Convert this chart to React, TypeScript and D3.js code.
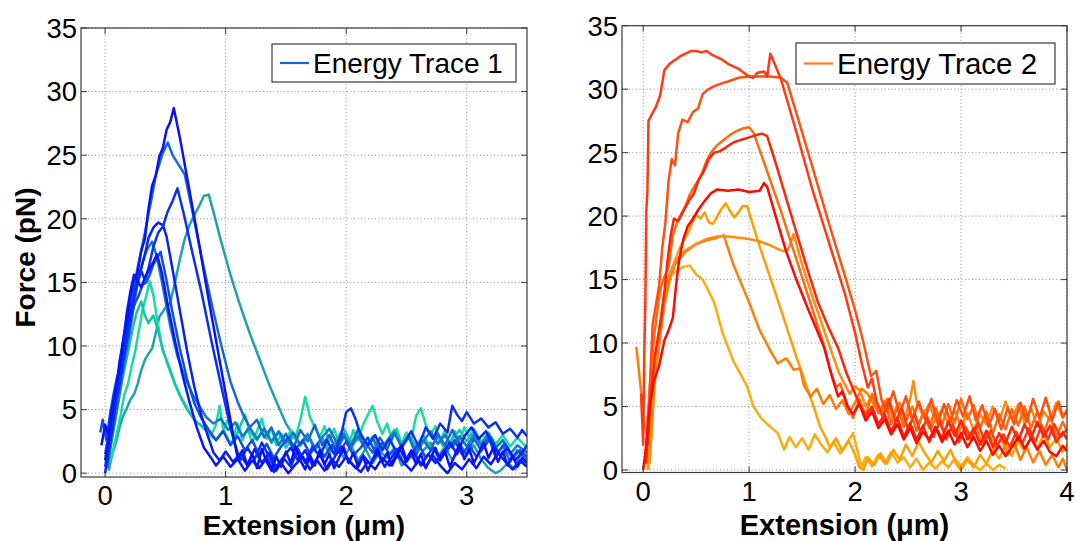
import * as React from 'react';
import * as d3 from 'd3';

type Pt = [number, number];

// ---- axis ticks ----
const yTicks = [0, 5, 10, 15, 20, 25, 30, 35];
const xTicksLeft = [0, 1, 2, 3];
const xTicksRight = [0, 1, 2, 3, 4];

// ---- Energy Trace 1 (left panel), [extension um, force pN] ----
const t1a: Pt[] = [[-0.03,2.2],[0.0,3.8],[0.03,3.0],[0.06,5.2],[0.09,6.8],[0.12,8.2],[0.15,10.5],[0.18,11.8],[0.21,13.9],[0.24,15.2],[0.27,15.8],[0.3,17.5],[0.33,18.4],[0.36,20.8],[0.39,22.6],[0.42,23.4],[0.45,24.9],[0.48,25.6],[0.51,27.0],[0.54,27.6],[0.57,28.7],[0.62,26.4],[0.7,22.2],[0.78,18.0],[0.86,13.6],[0.94,9.4],[1.02,5.2],[1.07,2.6],[1.1,1.2],[1.14,1.8],[1.18,0.6],[1.22,1.5],[1.26,0.4],[1.3,1.9],[1.34,0.9],[1.38,0.2],[1.42,1.3],[1.46,0.5],[1.5,1.7],[1.54,0.8],[1.58,2.1],[1.62,1.0],[1.66,0.3],[1.7,1.4],[1.74,0.6],[1.78,1.8],[1.82,0.7],[1.86,1.5],[1.9,0.4],[1.94,1.2],[1.98,2.0],[2.02,0.8],[2.06,1.6],[2.1,0.5],[2.14,1.3],[2.18,0.2],[2.22,1.1],[2.26,1.9],[2.3,0.9],[2.34,1.6],[2.38,0.6],[2.42,1.4],[2.46,2.2],[2.5,1.0],[2.54,1.8],[2.58,0.7],[2.62,1.5],[2.66,0.4],[2.7,1.2],[2.74,2.0],[2.78,1.0],[2.82,1.7],[2.86,0.5],[2.9,1.4],[2.94,2.3],[2.98,1.1],[3.02,1.9],[3.06,0.8],[3.1,1.6],[3.14,2.4],[3.18,1.2],[3.22,2.0],[3.26,0.9],[3.3,1.7],[3.34,0.6],[3.38,1.4],[3.42,0.5],[3.46,1.2],[3.5,0.8]];
const t1b: Pt[] = [[0.0,1.5],[0.03,3.2],[0.06,4.5],[0.09,6.3],[0.12,7.8],[0.15,9.6],[0.18,10.8],[0.21,12.9],[0.24,14.6],[0.27,16.2],[0.3,17.5],[0.33,18.9],[0.36,20.4],[0.39,21.8],[0.42,23.4],[0.45,24.3],[0.48,25.2],[0.52,26.0],[0.56,25.0],[0.6,24.4],[0.66,23.5],[0.72,20.8],[0.8,17.0],[0.88,13.5],[0.96,10.2],[1.04,7.2],[1.1,5.6],[1.15,4.5],[1.2,3.6],[1.26,4.2],[1.32,2.8],[1.38,3.6],[1.44,2.2],[1.5,3.1],[1.56,1.9],[1.62,3.4],[1.68,2.5],[1.74,3.8],[1.8,2.2],[1.86,3.0],[1.92,1.7],[1.98,2.9],[2.04,2.1],[2.1,3.5],[2.16,2.4],[2.22,1.6],[2.28,2.8],[2.34,1.9],[2.4,3.2],[2.46,2.0],[2.52,2.9],[2.58,1.4],[2.64,2.6],[2.7,1.8],[2.76,3.1],[2.82,2.2],[2.88,3.4],[2.94,2.3],[3.0,1.5],[3.06,2.7],[3.12,1.8],[3.18,2.9],[3.24,1.2],[3.3,2.2],[3.36,0.9],[3.42,1.8],[3.5,1.0]];
const t1c: Pt[] = [[0.0,0.5],[0.03,2.0],[0.06,3.8],[0.09,5.5],[0.12,7.0],[0.15,8.8],[0.18,10.5],[0.21,11.9],[0.24,13.8],[0.27,15.0],[0.3,15.9],[0.33,15.2],[0.36,16.1],[0.4,17.8],[0.44,18.9],[0.48,19.4],[0.52,20.6],[0.56,21.4],[0.6,22.4],[0.65,20.5],[0.72,17.5],[0.8,14.2],[0.88,10.5],[0.96,7.0],[1.03,4.0],[1.08,2.2],[1.12,1.0],[1.18,2.0],[1.24,1.1],[1.3,2.4],[1.36,1.3],[1.42,0.2],[1.48,1.2],[1.54,0.5],[1.6,1.9],[1.66,0.8],[1.72,2.1],[1.78,1.3],[1.84,2.6],[1.9,1.5],[1.96,3.1],[2.0,4.8],[2.04,5.1],[2.08,4.2],[2.12,3.0],[2.18,2.2],[2.24,3.0],[2.3,1.8],[2.36,2.7],[2.42,1.6],[2.48,2.4],[2.54,3.3],[2.6,2.1],[2.66,3.6],[2.72,2.7],[2.78,3.9],[2.84,3.2],[2.88,5.3],[2.92,4.6],[2.96,4.1],[3.0,4.8],[3.06,3.9],[3.12,4.3],[3.18,3.6],[3.24,4.0],[3.3,3.1],[3.36,3.5],[3.42,2.8],[3.46,3.4],[3.5,2.9]];
const t1d: Pt[] = [[0.03,0.2],[0.06,1.5],[0.09,2.4],[0.12,3.6],[0.15,4.5],[0.18,5.1],[0.21,5.8],[0.24,6.2],[0.27,7.0],[0.3,8.1],[0.33,8.9],[0.36,9.4],[0.39,9.8],[0.42,11.0],[0.45,12.3],[0.5,13.0],[0.54,13.4],[0.58,15.0],[0.62,16.8],[0.66,18.4],[0.7,19.5],[0.74,20.3],[0.78,21.0],[0.82,21.8],[0.86,21.9],[0.9,20.5],[0.96,18.3],[1.04,15.6],[1.12,13.2],[1.2,11.0],[1.28,9.0],[1.36,7.0],[1.44,5.2],[1.5,3.9],[1.56,3.0],[1.62,2.2],[1.68,3.1],[1.74,1.8],[1.8,2.7],[1.86,1.5],[1.92,2.4],[1.98,1.2],[2.04,2.2],[2.1,1.0],[2.16,1.9],[2.22,0.8],[2.28,1.7],[2.34,1.2],[2.4,2.0],[2.46,0.6],[2.52,1.5],[2.58,0.9],[2.64,1.8],[2.7,2.4],[2.76,1.3],[2.82,2.1],[2.88,1.0],[2.94,1.9],[3.0,1.4],[3.06,2.2],[3.12,1.1],[3.18,0.4],[3.24,0.0],[3.28,0.2],[3.34,0.8],[3.4,0.3],[3.46,1.1],[3.5,0.6]];
const t1e: Pt[] = [[0.0,0.0],[0.03,1.8],[0.06,3.5],[0.09,5.8],[0.12,7.2],[0.15,9.0],[0.18,10.6],[0.21,12.4],[0.24,13.9],[0.27,15.3],[0.3,16.1],[0.33,17.2],[0.36,18.5],[0.4,19.3],[0.44,19.7],[0.48,19.5],[0.51,18.6],[0.56,16.0],[0.62,12.8],[0.68,9.6],[0.74,6.8],[0.8,4.5],[0.85,3.0],[0.9,1.6],[0.95,1.0],[1.0,1.7],[1.06,0.9],[1.12,1.5],[1.18,0.6],[1.24,1.9],[1.3,0.8],[1.36,1.6],[1.42,0.5],[1.48,1.3],[1.54,2.0],[1.6,1.0],[1.66,1.8],[1.72,0.6],[1.78,1.5],[1.84,0.3],[1.9,1.2],[1.96,2.1],[2.02,1.0],[2.08,0.4],[2.14,1.4],[2.2,0.7],[2.26,1.6],[2.32,0.5],[2.38,1.3],[2.44,2.0],[2.5,0.9],[2.56,1.7],[2.62,0.6],[2.68,1.5],[2.74,0.8],[2.8,1.6],[2.86,2.4],[2.92,1.5],[2.98,2.9],[3.04,3.6],[3.1,2.7],[3.16,3.3],[3.22,2.1],[3.28,1.4],[3.34,2.0],[3.4,1.0],[3.46,1.6],[3.5,2.2]];
const t1f: Pt[] = [[-0.04,3.2],[-0.02,4.2],[0.01,2.6],[0.04,4.6],[0.07,6.2],[0.1,7.6],[0.13,8.4],[0.16,10.2],[0.19,11.5],[0.22,12.6],[0.25,13.4],[0.28,14.0],[0.31,14.8],[0.34,15.0],[0.37,15.6],[0.4,16.4],[0.43,16.9],[0.46,17.4],[0.5,15.6],[0.56,12.6],[0.62,9.8],[0.68,7.4],[0.74,5.5],[0.8,4.3],[0.86,3.4],[0.92,2.6],[0.98,3.3],[1.04,2.2],[1.1,2.9],[1.16,1.8],[1.22,2.6],[1.28,1.4],[1.34,2.3],[1.4,1.2],[1.46,2.1],[1.52,2.8],[1.58,1.9],[1.64,2.6],[1.7,1.5],[1.76,2.3],[1.82,1.3],[1.88,2.2],[1.94,1.6],[2.0,2.5],[2.06,1.4],[2.12,2.0],[2.18,2.8],[2.24,1.7],[2.3,2.4],[2.36,1.5],[2.42,1.9],[2.48,0.7],[2.54,1.5],[2.6,2.3],[2.66,1.2],[2.72,2.0],[2.78,1.1],[2.84,1.8],[2.9,2.6],[2.96,1.5],[3.02,2.2],[3.08,1.3],[3.14,2.0],[3.2,2.8],[3.26,1.7],[3.32,2.3],[3.38,1.2],[3.44,1.8],[3.5,1.3]];
const t1g: Pt[] = [[0.02,0.4],[0.05,2.3],[0.08,4.0],[0.11,5.6],[0.14,7.5],[0.17,9.3],[0.2,10.8],[0.23,12.6],[0.26,14.4],[0.29,15.8],[0.32,16.9],[0.35,17.6],[0.39,18.2],[0.43,17.0],[0.48,14.6],[0.54,11.6],[0.6,9.2],[0.66,7.6],[0.72,6.3],[0.78,5.3],[0.84,4.4],[0.9,3.9],[0.96,4.3],[1.02,3.4],[1.08,4.0],[1.14,2.9],[1.2,3.6],[1.26,2.7],[1.32,3.5],[1.38,2.5],[1.44,3.3],[1.5,2.4],[1.56,3.2],[1.62,2.2],[1.68,3.0],[1.74,2.0],[1.8,2.8],[1.86,3.5],[1.92,2.4],[1.98,3.1],[2.04,2.0],[2.1,2.9],[2.16,1.9],[2.22,2.7],[2.28,1.6],[2.34,2.5],[2.4,3.2],[2.46,2.1],[2.52,2.8],[2.58,1.7],[2.64,2.5],[2.7,3.3],[2.76,2.3],[2.82,3.0],[2.88,2.0],[2.94,2.9],[3.0,2.1],[3.06,3.0],[3.12,2.2],[3.18,3.1],[3.24,2.0],[3.3,2.6],[3.36,1.5],[3.42,2.2],[3.5,1.6]];
const t1h: Pt[] = [[0.0,1.0],[0.03,2.8],[0.06,4.9],[0.09,6.5],[0.12,8.8],[0.15,10.4],[0.18,12.6],[0.21,14.3],[0.24,15.6],[0.27,15.1],[0.3,14.6],[0.33,15.4],[0.36,15.9],[0.4,16.6],[0.43,17.2],[0.47,15.8],[0.52,13.2],[0.58,10.4],[0.64,7.8],[0.7,5.6],[0.76,3.6],[0.82,2.0],[0.88,1.2],[0.92,0.6],[0.98,1.3],[1.04,0.5],[1.1,1.1],[1.16,0.2],[1.22,1.0],[1.28,0.4],[1.34,1.2],[1.4,0.1],[1.46,0.8],[1.52,0.0],[1.58,0.7],[1.64,1.3],[1.7,0.3],[1.76,1.0],[1.82,0.2],[1.88,1.1],[1.94,0.5],[2.0,1.3],[2.06,0.6],[2.12,0.1],[2.18,0.9],[2.24,0.3],[2.3,1.2],[2.36,0.6],[2.42,1.5],[2.48,0.8],[2.54,0.2],[2.6,1.0],[2.66,0.5],[2.72,1.4],[2.78,0.6],[2.84,0.0],[2.9,0.8],[2.96,0.3],[3.02,1.1],[3.08,0.4],[3.14,1.3],[3.2,0.7],[3.26,1.6],[3.32,0.9],[3.38,0.3],[3.44,1.0],[3.5,0.5]];
const t1i: Pt[] = [[0.04,0.8],[0.07,2.0],[0.1,3.3],[0.13,4.6],[0.16,6.2],[0.19,7.0],[0.22,8.4],[0.25,9.6],[0.28,11.2],[0.31,12.8],[0.34,13.9],[0.37,15.1],[0.4,14.0],[0.43,12.2],[0.47,10.0],[0.52,8.5],[0.58,7.0],[0.64,5.8],[0.7,4.8],[0.76,4.0],[0.82,3.6],[0.88,3.0],[0.92,3.8],[0.95,5.3],[0.98,3.4],[1.02,4.2],[1.06,2.8],[1.1,3.9],[1.14,2.6],[1.18,3.5],[1.22,2.4],[1.26,3.3],[1.3,4.3],[1.34,2.7],[1.38,3.5],[1.42,2.2],[1.46,3.1],[1.5,2.5],[1.54,3.4],[1.58,2.8],[1.62,4.2],[1.66,6.0],[1.7,4.4],[1.74,3.6],[1.78,2.8],[1.82,3.7],[1.86,2.5],[1.9,3.5],[1.94,2.3],[1.98,3.1],[2.02,2.2],[2.06,3.4],[2.1,2.6],[2.14,3.8],[2.18,4.6],[2.22,5.3],[2.26,4.0],[2.3,3.1],[2.34,3.9],[2.38,2.6],[2.42,3.5],[2.46,2.3],[2.5,3.2],[2.54,2.6],[2.58,4.5],[2.62,5.1],[2.66,3.8],[2.7,3.0],[2.74,3.7],[2.78,2.5],[2.82,3.4],[2.86,2.2],[2.9,3.3],[2.94,2.5],[2.98,3.6],[3.02,2.8],[3.06,3.5],[3.12,2.4],[3.18,3.2],[3.24,2.3],[3.3,3.0],[3.36,2.1],[3.42,2.8],[3.5,2.0]];
const t1j: Pt[] = [[0.02,0.5],[0.05,2.5],[0.08,4.0],[0.11,5.7],[0.14,7.2],[0.17,8.6],[0.2,10.0],[0.23,11.4],[0.26,12.6],[0.3,13.5],[0.33,12.4],[0.36,11.8],[0.4,12.4],[0.44,11.2],[0.48,9.6],[0.53,8.4],[0.58,7.0],[0.63,5.9],[0.68,5.0],[0.74,4.2],[0.8,3.7],[0.86,3.1],[0.92,2.6],[0.98,3.4],[1.04,2.3],[1.1,3.2],[1.16,4.6],[1.2,3.3],[1.26,2.6],[1.32,3.5],[1.38,2.4],[1.44,3.2],[1.5,2.0],[1.56,2.9],[1.62,2.3],[1.68,3.1],[1.74,2.0],[1.8,2.8],[1.86,1.8],[1.92,2.7],[1.98,3.5],[2.04,2.4],[2.1,3.2],[2.16,2.1],[2.22,2.9],[2.28,1.8],[2.34,2.6],[2.4,3.4],[2.46,2.2],[2.52,3.0],[2.58,2.1],[2.64,3.0],[2.7,2.0],[2.76,2.8],[2.82,1.9],[2.88,2.7],[2.94,3.4],[3.0,2.5],[3.06,3.3],[3.12,2.3],[3.18,3.0],[3.24,2.0],[3.3,2.6],[3.36,1.6],[3.42,1.0],[3.46,1.6],[3.5,1.2]];

const leftTraces = [t1d, t1i, t1j, t1b, t1g, t1f, t1e, t1c, t1a, t1h];
const leftColors = ['#1fa0b6', '#18dca0', '#14c4aa', '#1868d4', '#1478cc', '#0c50e2', '#0622f4', '#0a30f0', '#0a10f8', '#0416fa'];

// ---- Energy Trace 2 (right panel) ----
const t2a: Pt[] = [[-0.02,6.0],[0.0,2.0],[0.01,9.0],[0.02,13.0],[0.03,20.5],[0.04,22.0],[0.05,27.5],[0.08,28.0],[0.12,28.6],[0.16,29.5],[0.2,31.5],[0.25,32.0],[0.3,32.3],[0.35,32.6],[0.4,32.8],[0.45,33.0],[0.5,33.0],[0.55,32.9],[0.6,33.0],[0.65,32.7],[0.7,32.5],[0.75,32.3],[0.8,32.0],[0.85,31.8],[0.9,31.6],[0.95,31.3],[1.0,31.0],[1.04,30.9],[1.08,31.3],[1.14,31.4],[1.17,31.0],[1.2,32.8],[1.25,31.8],[1.3,30.8],[1.45,26.5],[1.6,22.0],[1.75,18.0],[1.9,14.0],[2.0,10.8],[2.06,8.5],[2.12,6.5],[2.16,7.2],[2.2,5.5],[2.26,4.2],[2.32,5.6],[2.38,3.8],[2.44,4.9],[2.5,3.2],[2.56,4.4],[2.62,2.9],[2.68,4.1],[2.74,2.6],[2.8,3.8],[2.86,2.4],[2.92,3.6],[2.98,2.2],[3.04,3.4],[3.1,2.5],[3.16,3.7],[3.22,2.3],[3.28,3.1],[3.34,1.9],[3.4,2.8],[3.46,1.8],[3.52,3.0],[3.58,2.1],[3.64,3.3],[3.7,2.2],[3.76,3.5],[3.82,2.4],[3.88,3.6],[3.94,2.6],[4.0,3.2]];
const t2b: Pt[] = [[0.03,0.5],[0.05,4.0],[0.07,8.0],[0.09,11.5],[0.12,13.0],[0.15,14.5],[0.18,17.5],[0.21,19.5],[0.24,22.8],[0.27,24.5],[0.3,24.0],[0.33,26.5],[0.37,27.6],[0.42,27.4],[0.47,28.2],[0.52,28.5],[0.56,29.6],[0.6,29.9],[0.66,30.2],[0.72,30.4],[0.8,30.6],[0.9,30.9],[1.0,31.0],[1.1,31.0],[1.2,31.0],[1.3,30.9],[1.36,30.5],[1.45,28.0],[1.6,23.8],[1.75,19.5],[1.9,15.4],[2.0,12.6],[2.08,10.0],[2.15,7.4],[2.2,7.8],[2.25,5.5],[2.3,4.6],[2.36,6.2],[2.42,4.4],[2.48,5.8],[2.54,3.9],[2.6,5.4],[2.66,4.0],[2.72,5.6],[2.78,3.6],[2.84,5.2],[2.9,3.8],[2.96,5.5],[3.02,4.2],[3.08,5.8],[3.14,3.9],[3.2,5.1],[3.26,3.4],[3.32,4.8],[3.38,3.2],[3.44,4.9],[3.5,3.6],[3.56,5.3],[3.62,3.8],[3.68,5.6],[3.74,4.1],[3.8,5.7],[3.86,3.9],[3.92,5.4],[3.96,4.2],[4.0,4.6]];
const t2c: Pt[] = [[0.02,1.0],[0.05,5.0],[0.08,8.5],[0.11,11.0],[0.14,13.0],[0.17,14.5],[0.2,15.2],[0.24,16.0],[0.28,18.5],[0.32,19.5],[0.36,20.2],[0.4,20.8],[0.44,21.7],[0.48,22.3],[0.52,22.8],[0.56,23.5],[0.6,24.4],[0.64,25.0],[0.7,25.6],[0.76,26.0],[0.82,26.4],[0.88,26.7],[0.94,26.9],[1.0,27.0],[1.04,26.6],[1.1,25.2],[1.2,22.8],[1.3,20.4],[1.4,17.8],[1.5,15.2],[1.6,12.6],[1.7,10.0],[1.76,8.0],[1.82,6.5],[1.86,6.8],[1.92,5.2],[1.98,4.1],[2.04,5.6],[2.1,4.3],[2.16,6.0],[2.22,4.5],[2.28,5.4],[2.34,3.6],[2.4,5.0],[2.46,3.4],[2.52,4.7],[2.58,3.1],[2.64,4.5],[2.7,3.3],[2.76,4.9],[2.82,3.5],[2.88,5.2],[2.94,3.7],[3.0,5.6],[3.06,4.0],[3.12,5.1],[3.18,3.3],[3.24,4.6],[3.3,2.9],[3.36,4.4],[3.42,3.2],[3.48,4.8],[3.54,3.5],[3.6,5.0],[3.66,3.3],[3.72,4.6],[3.78,2.9],[3.84,4.3],[3.9,2.6],[3.96,3.8],[4.0,3.0]];
const t2d: Pt[] = [[0.02,0.5],[0.05,3.0],[0.08,6.5],[0.11,9.0],[0.14,10.5],[0.17,12.0],[0.2,14.0],[0.23,16.5],[0.26,18.5],[0.29,19.8],[0.33,19.6],[0.38,20.4],[0.43,21.2],[0.48,21.8],[0.52,22.8],[0.57,23.5],[0.62,24.5],[0.67,25.0],[0.72,25.1],[0.78,25.4],[0.85,25.8],[0.92,26.0],[1.0,26.2],[1.07,26.4],[1.12,26.5],[1.17,26.3],[1.25,24.2],[1.35,21.4],[1.45,18.6],[1.55,15.8],[1.65,13.2],[1.75,11.2],[1.84,9.6],[1.92,7.6],[2.0,6.0],[2.05,5.0],[2.1,4.2],[2.16,5.0],[2.22,3.6],[2.28,4.4],[2.34,3.0],[2.4,4.1],[2.46,2.6],[2.52,3.7],[2.58,2.4],[2.64,3.5],[2.7,2.2],[2.76,3.4],[2.82,2.5],[2.88,3.8],[2.94,2.7],[3.0,3.9],[3.06,2.4],[3.12,3.3],[3.18,2.0],[3.24,3.1],[3.3,1.8],[3.36,2.9],[3.42,2.1],[3.48,3.4],[3.54,2.3],[3.6,3.6],[3.66,2.5],[3.72,3.8],[3.78,2.6],[3.84,3.5],[3.9,2.2],[3.96,3.0],[4.0,2.4]];
const t2e: Pt[] = [[0.0,0.0],[0.03,2.0],[0.06,5.0],[0.1,7.0],[0.15,8.2],[0.2,10.2],[0.24,11.0],[0.28,12.0],[0.31,14.5],[0.34,16.6],[0.38,18.2],[0.42,19.2],[0.47,19.8],[0.52,20.5],[0.58,21.2],[0.64,21.8],[0.7,22.1],[0.8,22.0],[0.9,22.1],[1.0,21.9],[1.1,22.0],[1.14,22.6],[1.17,22.3],[1.25,20.0],[1.35,17.2],[1.45,14.9],[1.55,12.8],[1.63,11.2],[1.71,9.6],[1.78,7.4],[1.84,5.8],[1.88,6.2],[1.93,5.0],[1.98,4.4],[2.04,5.2],[2.1,3.9],[2.16,4.6],[2.22,3.3],[2.28,4.0],[2.34,2.8],[2.4,3.6],[2.46,2.4],[2.52,3.3],[2.58,2.1],[2.64,3.0],[2.7,2.4],[2.76,3.4],[2.82,2.2],[2.88,3.1],[2.94,2.0],[3.0,2.9],[3.06,1.8],[3.12,2.6],[3.18,1.5],[3.24,2.3],[3.3,1.2],[3.36,1.9],[3.42,1.1],[3.48,1.8],[3.54,2.6],[3.6,1.7],[3.66,2.5],[3.72,1.6],[3.78,2.3],[3.84,1.4],[3.9,1.1],[3.96,1.9],[4.0,1.5]];
const t2f: Pt[] = [[0.05,0.0],[0.08,3.0],[0.1,6.0],[0.12,9.0],[0.15,10.5],[0.18,12.0],[0.21,13.5],[0.24,14.6],[0.27,15.8],[0.3,16.5],[0.34,17.4],[0.38,18.1],[0.42,18.6],[0.46,19.4],[0.5,20.1],[0.54,19.8],[0.58,20.3],[0.62,19.5],[0.66,19.4],[0.7,20.0],[0.74,20.6],[0.78,21.0],[0.82,20.4],[0.86,19.9],[0.9,20.3],[0.94,20.8],[0.98,20.8],[1.1,17.6],[1.27,13.4],[1.45,8.8],[1.6,5.2],[1.67,3.4],[1.72,2.6],[1.76,1.8],[1.82,2.5],[1.88,1.5],[1.94,2.3],[2.0,1.2],[2.04,0.2],[2.08,0.0],[2.12,1.0],[2.18,0.4],[2.24,1.3],[2.3,0.5],[2.36,1.6],[2.42,0.8],[2.48,2.0],[2.54,1.1],[2.6,2.2],[2.66,1.3],[2.72,0.6],[2.78,1.5],[2.84,0.7],[2.9,1.6],[2.96,0.4],[3.0,0.0],[3.06,0.8],[3.12,0.2],[3.18,1.2],[3.24,0.5],[3.3,1.6],[3.36,0.9],[3.42,2.0],[3.48,1.1],[3.54,2.3],[3.6,1.4],[3.66,2.6],[3.72,1.7],[3.78,2.8],[3.84,1.8],[3.9,2.5],[3.96,1.4],[4.0,2.0]];
const t2g: Pt[] = [[0.06,0.5],[0.09,4.5],[0.12,8.5],[0.15,11.0],[0.2,14.0],[0.25,15.5],[0.3,16.4],[0.4,17.3],[0.5,17.8],[0.6,18.2],[0.7,18.4],[0.8,18.4],[0.9,18.3],[1.0,18.2],[1.1,18.0],[1.2,17.7],[1.3,17.3],[1.35,17.2],[1.38,17.6],[1.42,18.6],[1.5,16.2],[1.6,13.6],[1.74,10.2],[1.85,7.6],[1.95,6.0],[2.0,6.6],[2.05,6.2],[2.1,5.0],[2.16,5.9],[2.22,4.6],[2.28,5.3],[2.34,4.0],[2.4,5.1],[2.46,3.8],[2.52,5.6],[2.55,7.0],[2.58,5.4],[2.64,4.3],[2.7,5.2],[2.76,3.9],[2.82,4.8],[2.88,3.6],[2.94,4.7],[3.0,3.4],[3.06,4.5],[3.12,3.1],[3.18,4.4],[3.24,3.6],[3.3,5.0],[3.36,3.8],[3.42,5.4],[3.48,4.0],[3.54,5.2],[3.6,3.7],[3.66,4.9],[3.72,3.4],[3.78,4.6],[3.84,3.9],[3.9,5.3],[3.96,4.1],[4.0,4.8]];
const t2h: Pt[] = [[0.04,0.0],[0.07,3.5],[0.1,6.0],[0.12,7.6],[0.16,10.5],[0.2,13.2],[0.24,15.2],[0.3,15.6],[0.38,16.0],[0.44,16.1],[0.5,15.4],[0.56,15.0],[0.6,14.4],[0.67,13.2],[0.75,10.8],[0.85,8.6],[0.98,6.6],[1.04,5.0],[1.12,4.0],[1.2,3.4],[1.27,2.9],[1.33,1.6],[1.38,2.6],[1.44,1.8],[1.5,2.5],[1.56,1.6],[1.62,2.8],[1.68,2.0],[1.74,1.4],[1.8,2.2],[1.86,1.3],[1.92,2.1],[1.98,2.9],[2.02,1.6],[2.06,0.2],[2.1,1.0],[2.16,0.3],[2.22,1.2],[2.28,0.5],[2.34,1.4],[2.4,0.6],[2.46,1.0],[2.52,0.2],[2.58,0.9],[2.64,0.0],[2.7,0.6],[2.76,0.1],[2.82,0.7],[2.88,0.2],[2.94,0.9],[3.0,0.3],[3.06,1.0],[3.12,0.4],[3.18,0.0],[3.24,0.5],[3.3,0.0],[3.36,0.4],[3.42,0.1]];
const t2i: Pt[] = [[-0.065,9.7],[-0.04,7.8],[-0.02,6.2],[0.0,4.0],[0.03,3.0],[0.06,5.2],[0.1,7.0],[0.15,10.0],[0.2,13.0],[0.25,15.0],[0.3,16.2],[0.4,17.2],[0.5,17.8],[0.6,18.1],[0.7,18.3],[0.76,18.5],[0.85,16.2],[0.99,13.4],[1.1,11.0],[1.2,9.4],[1.27,8.4],[1.35,8.8],[1.42,7.9],[1.48,8.0],[1.52,6.6],[1.58,5.8],[1.64,6.4],[1.7,5.2],[1.76,5.9],[1.82,4.8],[1.88,5.5],[1.94,4.4],[2.0,5.3],[2.06,6.4],[2.12,6.0],[2.18,5.1],[2.24,4.4],[2.3,5.6],[2.36,4.1],[2.42,5.3],[2.48,3.9],[2.54,5.0],[2.6,3.6],[2.66,4.7],[2.72,3.3],[2.78,4.5],[2.84,3.0],[2.9,4.2],[2.96,2.6],[3.02,3.8],[3.08,2.4],[3.14,3.5],[3.2,2.0],[3.26,3.0],[3.32,1.6],[3.38,2.5],[3.44,1.2],[3.5,2.2],[3.56,0.8],[3.62,1.8],[3.68,0.6],[3.74,1.5],[3.8,0.4],[3.86,1.2],[3.92,0.2],[3.96,0.9],[4.0,0.0]];

const rightTraces = [t2h, t2f, t2i, t2g, t2c, t2b, t2a, t2d, t2e];
const rightColors = ['#ffaa10', '#ffa000', '#ff7c08', '#ff8a14', '#ff6a10', '#ff5010', '#ff3a10', '#ff2408', '#ff0800'];

type PanelProps = {
  id: string;
  traces: Pt[][];
  colors: string[];
  xDomain: [number, number];
  yDomain: [number, number];
  box: { left: number; right: number; top: number; bottom: number };
  xTicks: number[];
  legendText: string;
  legendColor: string;
  legendBox: { x: number; y: number; w: number; h: number; fs: number };
  labelSize: number;
  showYLabel: boolean;
};

const FONT = '"Liberation Sans", Arial, sans-serif';

function Panel(p: PanelProps) {
  const { box } = p;
  const x = d3.scaleLinear().domain(p.xDomain).range([box.left, box.right]);
  const y = d3.scaleLinear().domain(p.yDomain).range([box.bottom, box.top]);
  const line = d3.line<Pt>().x(d => x(d[0])).y(d => y(d[1]));
  const tl = 6;
  const lb = p.legendBox;
  return (
    <g>
      <defs>
        <clipPath id={p.id}>
          <rect x={box.left} y={box.top} width={box.right - box.left} height={box.bottom - box.top} />
        </clipPath>
      </defs>
      <rect x={box.left} y={box.top} width={box.right - box.left} height={box.bottom - box.top} fill="#fff" />
      {/* grid */}
      {p.xTicks.map(t => (
        <line key={'gx' + t} x1={x(t)} x2={x(t)} y1={box.top} y2={box.bottom}
          stroke="#8c8c8c" strokeWidth={1} strokeDasharray="1 2.5" />
      ))}
      {yTicks.map(t => (
        <line key={'gy' + t} x1={box.left} x2={box.right} y1={y(t)} y2={y(t)}
          stroke="#8c8c8c" strokeWidth={1} strokeDasharray="1 2.5" />
      ))}
      {/* traces */}
      <g clipPath={`url(#${p.id})`}>
        {p.traces.map((tr, i) => (
          <path key={i} d={line(tr) || ''} fill="none" stroke={p.colors[i]} strokeWidth={2.5}
            strokeLinejoin="round" />
        ))}
      </g>
      {/* box + ticks */}
      <rect x={box.left} y={box.top} width={box.right - box.left} height={box.bottom - box.top}
        fill="none" stroke="#3a3a3a" strokeWidth={1.2} />
      {p.xTicks.map(t => (
        <g key={'tx' + t} stroke="#3a3a3a" strokeWidth={1}>
          <line x1={x(t)} x2={x(t)} y1={box.bottom} y2={box.bottom - tl} />
          <line x1={x(t)} x2={x(t)} y1={box.top} y2={box.top + tl} />
        </g>
      ))}
      {yTicks.map(t => (
        <g key={'ty' + t} stroke="#3a3a3a" strokeWidth={1}>
          <line x1={box.left} x2={box.left + tl} y1={y(t)} y2={y(t)} />
          <line x1={box.right} x2={box.right - tl} y1={y(t)} y2={y(t)} />
        </g>
      ))}
      {/* tick labels */}
      {p.xTicks.map(t => (
        <text key={'lx' + t} x={x(t)} y={box.bottom + 28} textAnchor="middle"
          fontFamily={FONT} fontSize={27.5} fill="#000">{t}</text>
      ))}
      {yTicks.map(t => (
        <text key={'ly' + t} x={box.left - 4} y={y(t)} dy="0.36em" textAnchor="end"
          fontFamily={FONT} fontSize={27.5} fill="#000">{t}</text>
      ))}
      {/* axis labels */}
      <text x={(box.left + box.right) / 2} y={535} textAnchor="middle"
        fontFamily={FONT} fontWeight="bold" fontSize={p.labelSize} fill="#000">Extension (μm)</text>
      {p.showYLabel && (
        <text transform={`translate(35,${(box.top + box.bottom) / 2 + 5}) rotate(-90)`} textAnchor="middle"
          fontFamily={FONT} fontWeight="bold" fontSize={28} fill="#000">Force (pN)</text>
      )}
      {/* legend */}
      <rect x={lb.x} y={lb.y} width={lb.w} height={lb.h} fill="#fff" stroke="#3a3a3a" strokeWidth={1.2} />
      <line x1={lb.x + 8} x2={lb.x + 37} y1={lb.y + lb.h / 2} y2={lb.y + lb.h / 2}
        stroke={p.legendColor} strokeWidth={2.2} />
      <text x={lb.x + 41} y={lb.y + lb.h / 2} dy="0.36em" fontFamily={FONT} fontSize={lb.fs} fill="#000">
        {p.legendText}
      </text>
    </g>
  );
}

export default function App() {
  return (
    <svg width={1076} height={541} viewBox="0 0 1076 541"
      style={{ position: 'absolute', left: 0, top: 0, background: '#fff' }}>
      <rect width={1076} height={541} fill="#fff" />
      <Panel id="clipL" traces={leftTraces} colors={leftColors}
        xDomain={[-0.2, 3.5]} yDomain={[-0.3, 35]}
        box={{ left: 81, right: 527, top: 28, bottom: 477 }}
        xTicks={xTicksLeft} legendText="Energy Trace 1" legendColor="#1a62da"
        legendBox={{ x: 272, y: 44, w: 244, h: 38, fs: 28 }} labelSize={28} showYLabel={true} />
      <Panel id="clipR" traces={rightTraces} colors={rightColors}
        xDomain={[-0.2, 4]} yDomain={[-0.2, 35]}
        box={{ left: 622, right: 1067, top: 25.7, bottom: 472.5 }}
        xTicks={xTicksRight} legendText="Energy Trace 2" legendColor="#ff8020"
        legendBox={{ x: 796, y: 43, w: 259, h: 41, fs: 29.5 }} labelSize={29} showYLabel={false} />
    </svg>
  );
}
